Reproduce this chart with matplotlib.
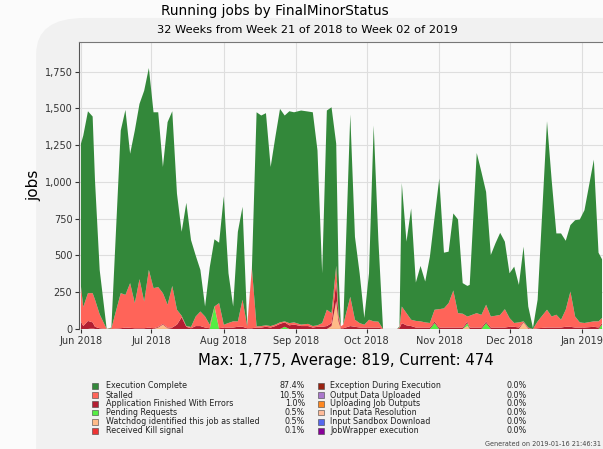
import datetime
import matplotlib
matplotlib.use("Agg")
import matplotlib.pyplot as plt
import matplotlib.dates as mdates
from matplotlib.patches import FancyBboxPatch, Rectangle
from matplotlib.ticker import FuncFormatter

days = [0, 1, 3, 5, 6, 8, 11, 13, 17, 19, 21, 23, 25, 27, 29, 31, 33, 35, 37, 39,
        41, 43, 45, 47, 49, 51, 53, 55, 57, 59, 61, 63, 65, 67, 69, 71, 73, 75, 77, 79,
        81, 83, 85, 87, 89, 91, 94, 97, 99, 101, 103, 105, 107, 109, 110, 111, 112, 115, 117, 119,
        121, 123, 125, 127, 129, 135, 136, 137, 139, 141, 143, 145, 147, 149, 151, 153, 155, 157, 159, 161,
        163, 165, 166, 169, 171, 173, 175, 177, 179, 181, 183, 185, 187, 189, 191, 193, 195, 199, 201, 203,
        205, 207, 209, 211, 213, 215, 219, 221, 222.5]

execution_complete = [970, 1166, 1237, 1201, 811, 302, 0, 5, 1106, 1258, 880, 1174, 1192, 1434, 1373, 1196, 1189, 858, 1242, 1188,
                      790, 571, 838, 591, 415, 283, 68, 391, 457, 411, 874, 338, 101, 609, 632, 12, 0, 1456, 1432, 1443,
                      1082, 1275, 1452, 1400, 1441, 1429, 1456, 1444, 1454, 1190, 339, 1355, 1400, 830, 279, 0, 0, 1240, 564, 339,
                      46, 316, 1332, 555, 0, 0, 8, 840, 486, 757, 261, 377, 278, 451, 629, 888, 379, 350, 524, 637,
                      208, 208, 210, 1089, 972, 767, 418, 493, 558, 459, 304, 383, 255, 508, 143, 7, 147, 1282, 926, 553,
                      587, 469, 452, 655, 700, 767, 1100, 467, 399]
stalled = [240, 130, 189, 199, 185, 95, 0, 5, 239, 222, 304, 171, 334, 182, 392, 273, 270, 209, 155, 283,
           101, 10, 5, 9, 65, 99, 75, 24, 0, 171, 19, 31, 42, 37, 184, 13, 408, 8, 10, 10,
           10, 10, 10, 7, 15, 15, 10, 15, 10, 10, 25, 111, 68, 110, 20, 13, 24, 199, 48, 30,
           19, 53, 42, 40, 0, 0, 5, 113, 83, 43, 45, 42, 35, 31, 81, 125, 130, 166, 252, 98,
           94, 35, 80, 98, 86, 115, 75, 80, 86, 125, 60, 26, 35, 2, 5, 0, 47, 121, 75, 87,
           53, 116, 240, 75, 35, 31, 37, 42, 35]
app_errors = [50, 20, 55, 40, 15, 5, 0, 0, 5, 10, 8, 5, 5, 5, 10, 5, 5, 5, 5, 10,
              30, 80, 15, 5, 20, 20, 10, 5, 0, 5, 10, 10, 10, 15, 15, 5, 5, 10, 10, 15,
              10, 20, 35, 30, 25, 30, 20, 20, 10, 15, 15, 20, 20, 130, 30, 5, 5, 20, 15, 10,
              10, 10, 10, 10, 0, 0, 5, 40, 25, 20, 10, 10, 10, 10, 10, 10, 10, 10, 10, 10,
              10, 10, 10, 10, 10, 10, 10, 10, 10, 10, 15, 15, 10, 5, 5, 0, 5, 10, 10, 10,
              10, 15, 15, 10, 10, 10, 15, 10, 10]
pending = [0] * 28 + [153] + [0] * 14 + [15] + [0] * 30 + [40] + [0] * 6 + [20, 0, 0, 0, 40] + [0] * 22 + [30]
watchdog = [0] * 16 + [10, 30, 5] + [0] * 33 + [20, 190, 50] + [0] * 26 + [20] + [0] * 11 + [45] + [0] * 15
received_kill = [0, 0, 0, 5] + [0] * 105

legend_labels = ["Execution Complete", "Stalled", "Application Finished With Errors",
                 "Pending Requests", "Watchdog identified this job as stalled", "Received Kill signal",
                 "Exception During Execution", "Output Data Uploaded", "Uploading Job Outputs",
                 "Input Data Resolution", "Input Sandbox Download", "JobWrapper execution"]
legend_pct = ["87.4%", "10.5%", "1.0%", "0.5%", "0.5%", "0.1%",
              "0.0%", "0.0%", "0.0%", "0.0%", "0.0%", "0.0%"]
colors = ["#33883a", "#ff6459", "#b31e32", "#55ee44", "#ffbb88", "#ee3333",
          "#992211", "#aa77cc", "#ff8822", "#ffbb99", "#5566ee", "#880099"]

start = datetime.datetime(2018, 6, 1)
dates = [start + datetime.timedelta(days=d) for d in days]

fig = plt.figure(figsize=(6.03, 4.49), dpi=100)
fig.patch.set_facecolor("#fbfbfb")

# faint watermark shape behind everything
fig.patches.append(FancyBboxPatch((0.06, -0.2), 1.2, 1.16, boxstyle="round,pad=0,rounding_size=0.08",
                                  transform=fig.transFigure, facecolor="#f1f1f1", edgecolor="none", zorder=-10))

ax = fig.add_axes([79.3 / 603, 120 / 449, 530 / 603, 287 / 449])
ax.set_facecolor("#fafafa")

# bottom to top: smallest series first
ax.stackplot(dates, received_kill, watchdog, pending, app_errors, stalled, execution_complete,
             colors=[colors[5], colors[4], colors[3], colors[2], colors[1], colors[0]],
             linewidth=0, zorder=2)

ax.set_xlim(start - datetime.timedelta(days=0.7), start + datetime.timedelta(days=225.6))
ax.set_ylim(0, 1952)
ax.set_yticks(range(0, 2000, 250))
ax.yaxis.set_major_formatter(FuncFormatter(lambda v, p: f"{int(v):,}"))
ax.xaxis.set_major_locator(mdates.MonthLocator())
ax.xaxis.set_major_formatter(mdates.DateFormatter("%b %Y"))
ax.tick_params(labelsize=7, colors="#333333", length=3, pad=2)
ax.grid(True, color="#dedede", linewidth=0.8, zorder=1)
ax.set_axisbelow(True)
for side in ["right", "bottom"]:
    ax.spines[side].set_visible(False)
ax.spines["left"].set_color("#555555")
ax.spines["top"].set_color("#777777")
ax.axhline(0, color="#555555", linewidth=0.8, zorder=3)
ax.set_ylabel("jobs", fontsize=11, labelpad=2)

fig.text(275 / 603, 1 - 11 / 449, "Running jobs by FinalMinorStatus", ha="center", va="center", fontsize=9.8)
fig.text(307 / 603, 1 - 30 / 449, "32 Weeks from Week 21 of 2018 to Week 02 of 2019", ha="center", va="center",
         fontsize=8.2)
fig.text(346 / 603, 1 - 361 / 449, "Max: 1,775, Average: 819, Current: 474", ha="center", va="center", fontsize=10.7)

# legend as two text columns
row_y = [385.7, 395, 404, 412.7, 422, 430.7]
for i, (lab, pct, col) in enumerate(zip(legend_labels, legend_pct, colors)):
    c, r = divmod(i, 6)
    y = 1 - row_y[r] / 449
    sx = (92 if c == 0 else 318) / 603
    tx = (106 if c == 0 else 330) / 603
    px = (305 if c == 0 else 527) / 603
    fig.patches.append(Rectangle((sx, y - 2.8 / 449), 5.6 / 603, 5.6 / 449, transform=fig.transFigure,
                                 facecolor=col, edgecolor="#444444", linewidth=0.4, zorder=3))
    fig.text(tx, y, lab, ha="left", va="center", fontsize=5.8, color="#222222")
    fig.text(px, y, pct, ha="right", va="center", fontsize=5.8, color="#222222")

fig.text(601 / 603, 1 - 444 / 449, "Generated on 2019-01-16 21:46:31", ha="right", va="center",
         fontsize=4.7, color="#444444")

fig.savefig("out.png", dpi=100, facecolor=fig.get_facecolor())
